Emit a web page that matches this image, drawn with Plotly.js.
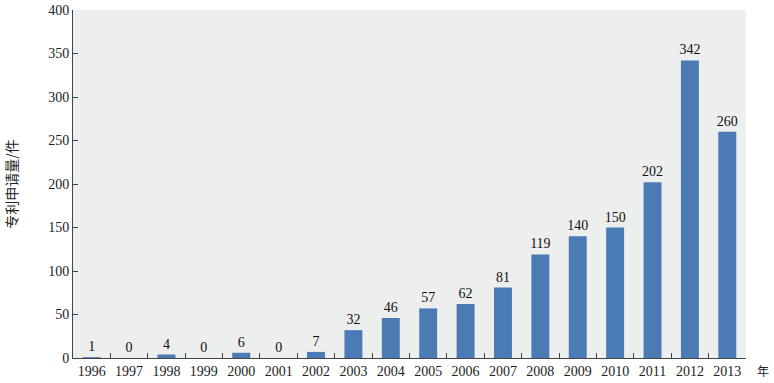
<!DOCTYPE html>
<html><head><meta charset="utf-8">
<script src="https://cdn.plot.ly/plotly-3.0.1.min.js"></script>
<style>body{margin:0;background:#fff}#c{width:774px;height:383px}</style>
</head><body><div id="c"></div>
<script>
const years = ['1996','1997','1998','1999','2000','2001','2002','2003','2004','2005','2006','2007','2008','2009','2010','2011','2012','2013'];
const counts = [1,0,4,0,6,0,7,32,46,57,62,81,119,140,150,202,342,260];
const yTitle = '专利申请量/件';
const xUnit = '年';
const serif = '"Liberation Serif", "Times New Roman", serif';
Plotly.newPlot('c', [{
  type: 'bar', x: years, y: counts,
  marker: {color: '#4a7bb5'},
  text: counts.map(String), textposition: 'outside', cliponaxis: false,
  constraintext: 'none',
  textfont: {family: serif, size: 14, color: '#111'},
  hoverinfo: 'none'
}], {
  width: 774, height: 383,
  margin: {l: 73, r: 28, t: 10, b: 25},
  paper_bgcolor: '#fff', plot_bgcolor: '#edeeee',
  bargap: 0.52,
  showlegend: false,
  font: {family: serif, size: 14, color: '#222'},
  xaxis: {type: 'category', showline: true, linecolor: '#444', linewidth: 1,
    ticks: 'inside', tickson: 'boundaries', ticklen: 5, tickcolor: '#444',
    showgrid: false, tickfont: {family: serif, size: 14, color: '#222'}},
  yaxis: {range: [0, 400], dtick: 50, showline: true, linecolor: '#444', linewidth: 1,
    ticks: 'inside', ticklen: 5, tickcolor: '#444', showgrid: false, zeroline: false,
    tickfont: {family: serif, size: 14, color: '#222'},
    title: {text: yTitle, standoff: 27, font: {family: '"Noto Sans CJK SC", serif', size: 14, color: '#222'}}},
  annotations: [{text: xUnit, xref: 'paper', yref: 'paper', x: 1.013, y: 0, yshift: -12,
    xanchor: 'left', yanchor: 'middle', showarrow: false,
    font: {family: '"Noto Sans CJK SC", serif', size: 12, color: '#222'}}]
}, {displayModeBar: false, staticPlot: true});
</script></body></html>
